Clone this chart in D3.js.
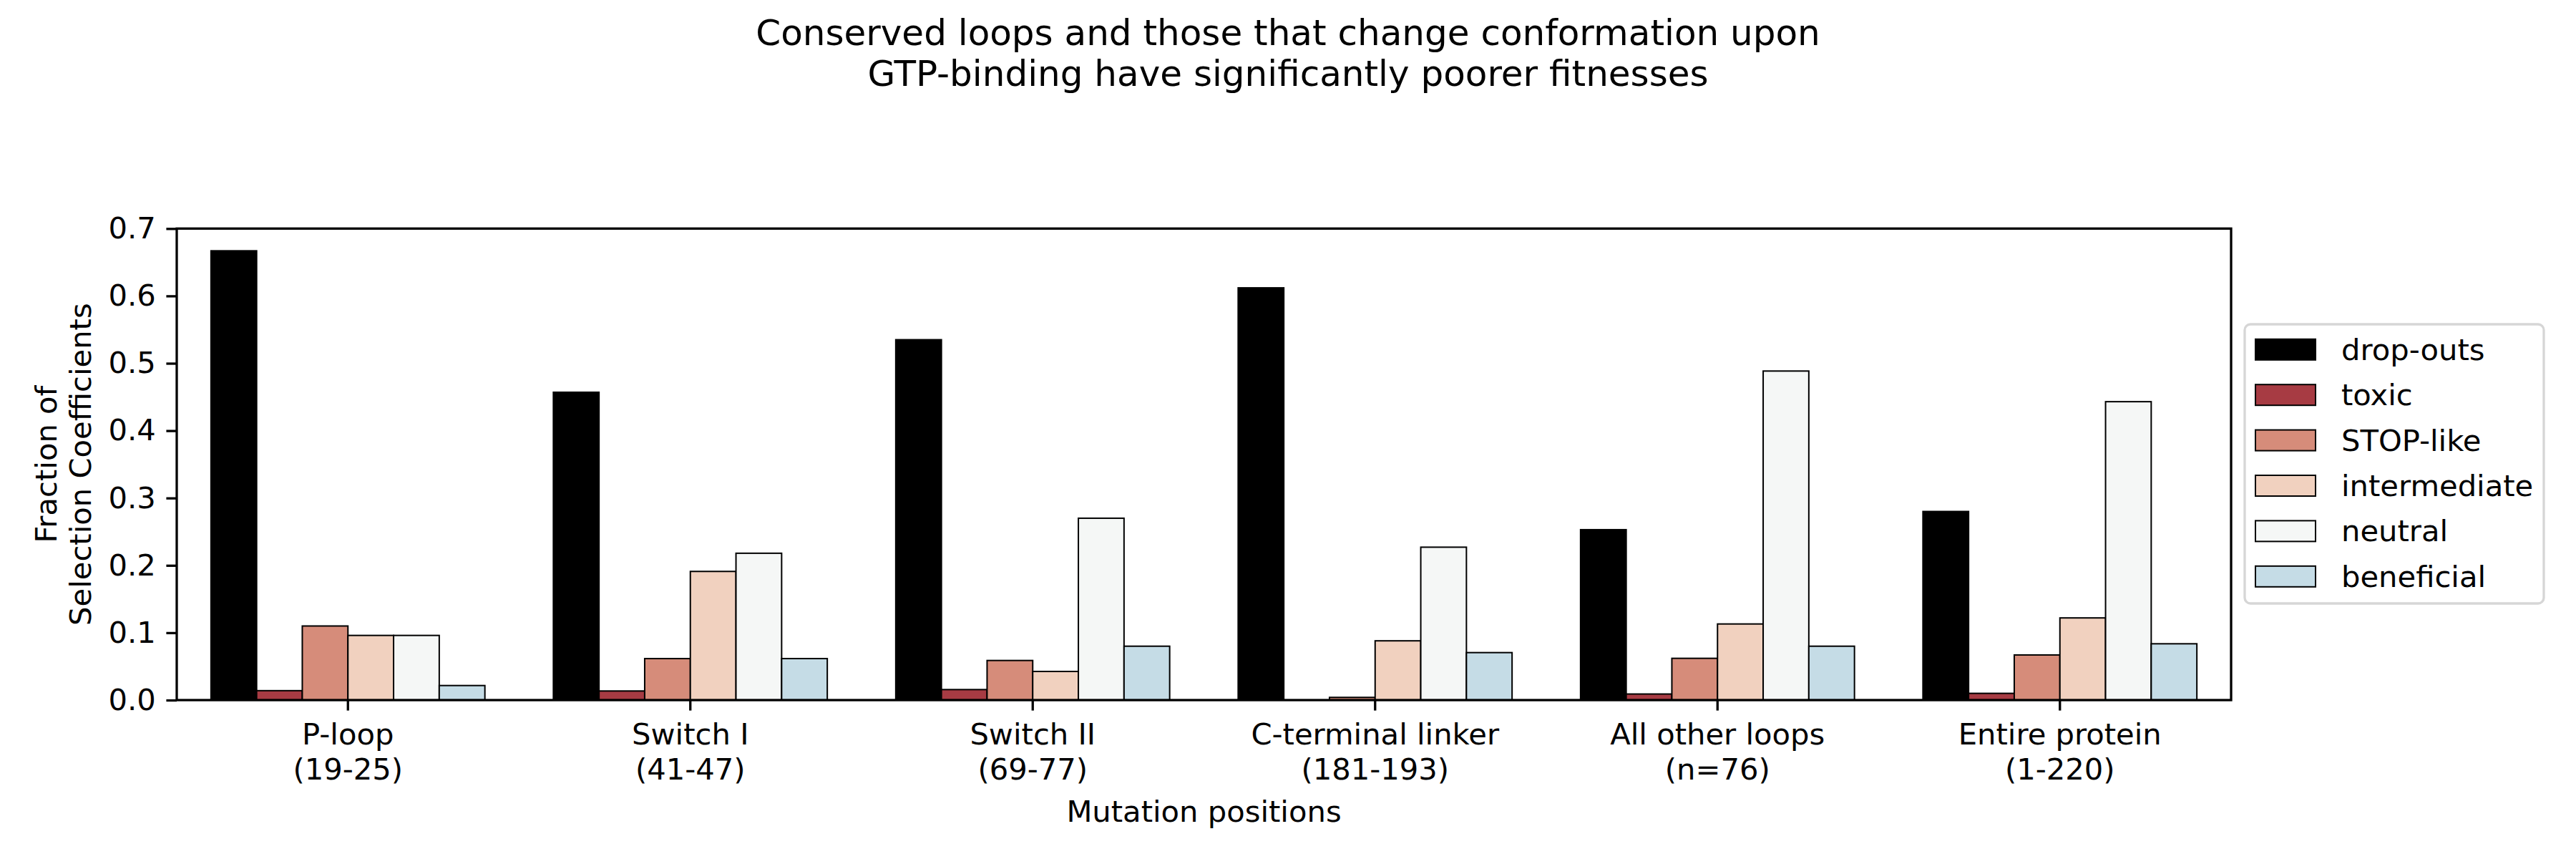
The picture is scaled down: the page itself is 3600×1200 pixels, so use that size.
<!DOCTYPE html>
<html>
<head>
<meta charset="utf-8">
<script src="https://cdn.jsdelivr.net/npm/d3@7"></script>
<style>
  body { margin: 0; background: #fff; }
  text { font-family: "DejaVu Sans", sans-serif; fill: #000; }
</style>
</head>
<body>
<svg id="chart" width="3600" height="1200"></svg>
<script>
var categoryNames = ['P-loop', 'Switch I', 'Switch II', 'C-terminal linker', 'All other loops', 'Entire protein'];
var categoryRanges = ['(19-25)', '(41-47)', '(69-77)', '(181-193)', '(n=76)', '(1-220)'];
var seriesNames = ['drop-outs', 'toxic', 'STOP-like', 'intermediate', 'neutral', 'beneficial'];
var seriesColors = ['#000000', '#a73b43', '#d68c7a', '#f1d1bf', '#f5f7f6', '#c5dce6'];

var dropOuts = [0.667, 0.457, 0.535, 0.612, 0.253, 0.280];
var toxic = [0.014, 0.0135, 0.0156, 0, 0.009, 0.010];
var stopLike = [0.110, 0.0616, 0.0588, 0.004, 0.062, 0.067];
var intermediate = [0.096, 0.191, 0.0425, 0.088, 0.113, 0.122];
var neutral = [0.096, 0.218, 0.270, 0.227, 0.4885, 0.443];
var beneficial = [0.0216, 0.0616, 0.080, 0.0705, 0.080, 0.0836];

var yTicks = [0, 0.1, 0.2, 0.3, 0.4, 0.5, 0.6, 0.7];

var seriesValues = [dropOuts, toxic, stopLike, intermediate, neutral, beneficial];

var fs = 41.7;
var tickLen = 14.6;
// axes box in pixels (window.top is reserved, so no plain "top")
var axL = 247, axR = 3118, axT = 319.3, axB = 978;

var svg = d3.select('#chart');

var x = d3.scaleBand()
    .domain(categoryNames)
    .range([axL, axR])
    .paddingInner(0.2)
    .paddingOuter(0.1);

var xHue = d3.scaleBand()
    .domain(seriesNames)
    .range([0, x.bandwidth()]);

var y = d3.scaleLinear()
    .domain([0, 0.7])
    .range([axB, axT]);

// bars, one group per hue level
seriesNames.forEach(function(name, s) {
  svg.append('g')
    .selectAll('rect')
    .data(seriesValues[s])
    .enter()
    .append('rect')
      .attr('x', function(d, i) { return x(categoryNames[i]) + xHue(name); })
      .attr('y', function(d) { return y(d); })
      .attr('width', xHue.bandwidth())
      .attr('height', function(d) { return y(0) - y(d); })
      .attr('fill', seriesColors[s])
      .attr('stroke', '#000')
      .attr('stroke-width', 2);
});

// y axis
var yAxis = svg.append('g')
    .attr('transform', 'translate(' + axL + ',0)')
    .call(d3.axisLeft(y).tickValues(yTicks).tickFormat(d3.format('.1f'))
      .tickSize(tickLen).tickPadding(tickLen));
yAxis.select('.domain').remove();
yAxis.selectAll('line').attr('stroke-width', 3.3);
yAxis.selectAll('text').attr('font-size', fs).attr('font-family', 'DejaVu Sans');

// x axis
var xAxis = svg.append('g')
    .attr('transform', 'translate(0,' + axB + ')')
    .call(d3.axisBottom(x).tickSize(tickLen).tickFormat(''));
xAxis.select('.domain').remove();
xAxis.selectAll('line').attr('stroke-width', 3.3);

var xl = svg.append('g')
  .selectAll('text')
  .data(categoryNames)
  .enter()
  .append('text')
    .attr('text-anchor', 'middle')
    .attr('font-size', fs)
    .attr('x', function(d) { return x(d) + x.bandwidth() / 2; })
    .attr('y', 1040);
xl.append('tspan').text(function(d) { return d; });
xl.append('tspan')
    .attr('x', function(d) { return x(d) + x.bandwidth() / 2; })
    .attr('dy', 48.5)
    .text(function(d, i) { return categoryRanges[i]; });

// spines
svg.append('rect')
    .attr('x', axL)
    .attr('y', axT)
    .attr('width', axR - axL)
    .attr('height', axB - axT)
    .attr('fill', 'none')
    .attr('stroke', '#000')
    .attr('stroke-width', 3.3);

// axis labels
svg.append('text')
    .attr('x', (axL + axR) / 2)
    .attr('y', 1148)
    .attr('text-anchor', 'middle')
    .attr('font-size', fs)
    .text('Mutation positions');

var yl = svg.append('text')
    .attr('transform', 'translate(79,' + ((axT + axB) / 2) + ') rotate(-90)')
    .attr('text-anchor', 'middle')
    .attr('font-size', fs);
yl.append('tspan').attr('x', 0).attr('y', 0).text('Fraction of');
yl.append('tspan').attr('x', 0).attr('y', 47.5).text('Selection Coefficients');

// title
var title = svg.append('text')
    .attr('text-anchor', 'middle')
    .attr('font-size', 50);
title.append('tspan').attr('x', 1800).attr('y', 63)
    .text('Conserved loops and those that change conformation upon');
title.append('tspan').attr('x', 1800).attr('y', 120)
    .text('GTP-binding have significantly poorer fitnesses');

// legend
var legend = svg.append('g').attr('transform', 'translate(3137,453)');
legend.append('rect')
    .attr('width', 418)
    .attr('height', 390)
    .attr('rx', 8)
    .attr('fill', '#fff')
    .attr('fill-opacity', 0.8)
    .attr('stroke', '#d6d6d6')
    .attr('stroke-width', 3.3);

var item = legend.selectAll('.item')
    .data(seriesNames)
    .enter()
    .append('g')
      .attr('class', 'item')
      .attr('transform', function(d, i) { return 'translate(0,' + (35.3 + i * 63.4) + ')'; });
item.append('rect')
    .attr('x', 15)
    .attr('y', -14.5)
    .attr('width', 84)
    .attr('height', 29)
    .attr('fill', function(d, i) { return seriesColors[i]; })
    .attr('stroke', '#000')
    .attr('stroke-width', 2);
item.append('text')
    .attr('x', 135)
    .attr('y', 14.5)
    .attr('font-size', fs)
    .text(function(d) { return d; });
</script>
</body>
</html>
